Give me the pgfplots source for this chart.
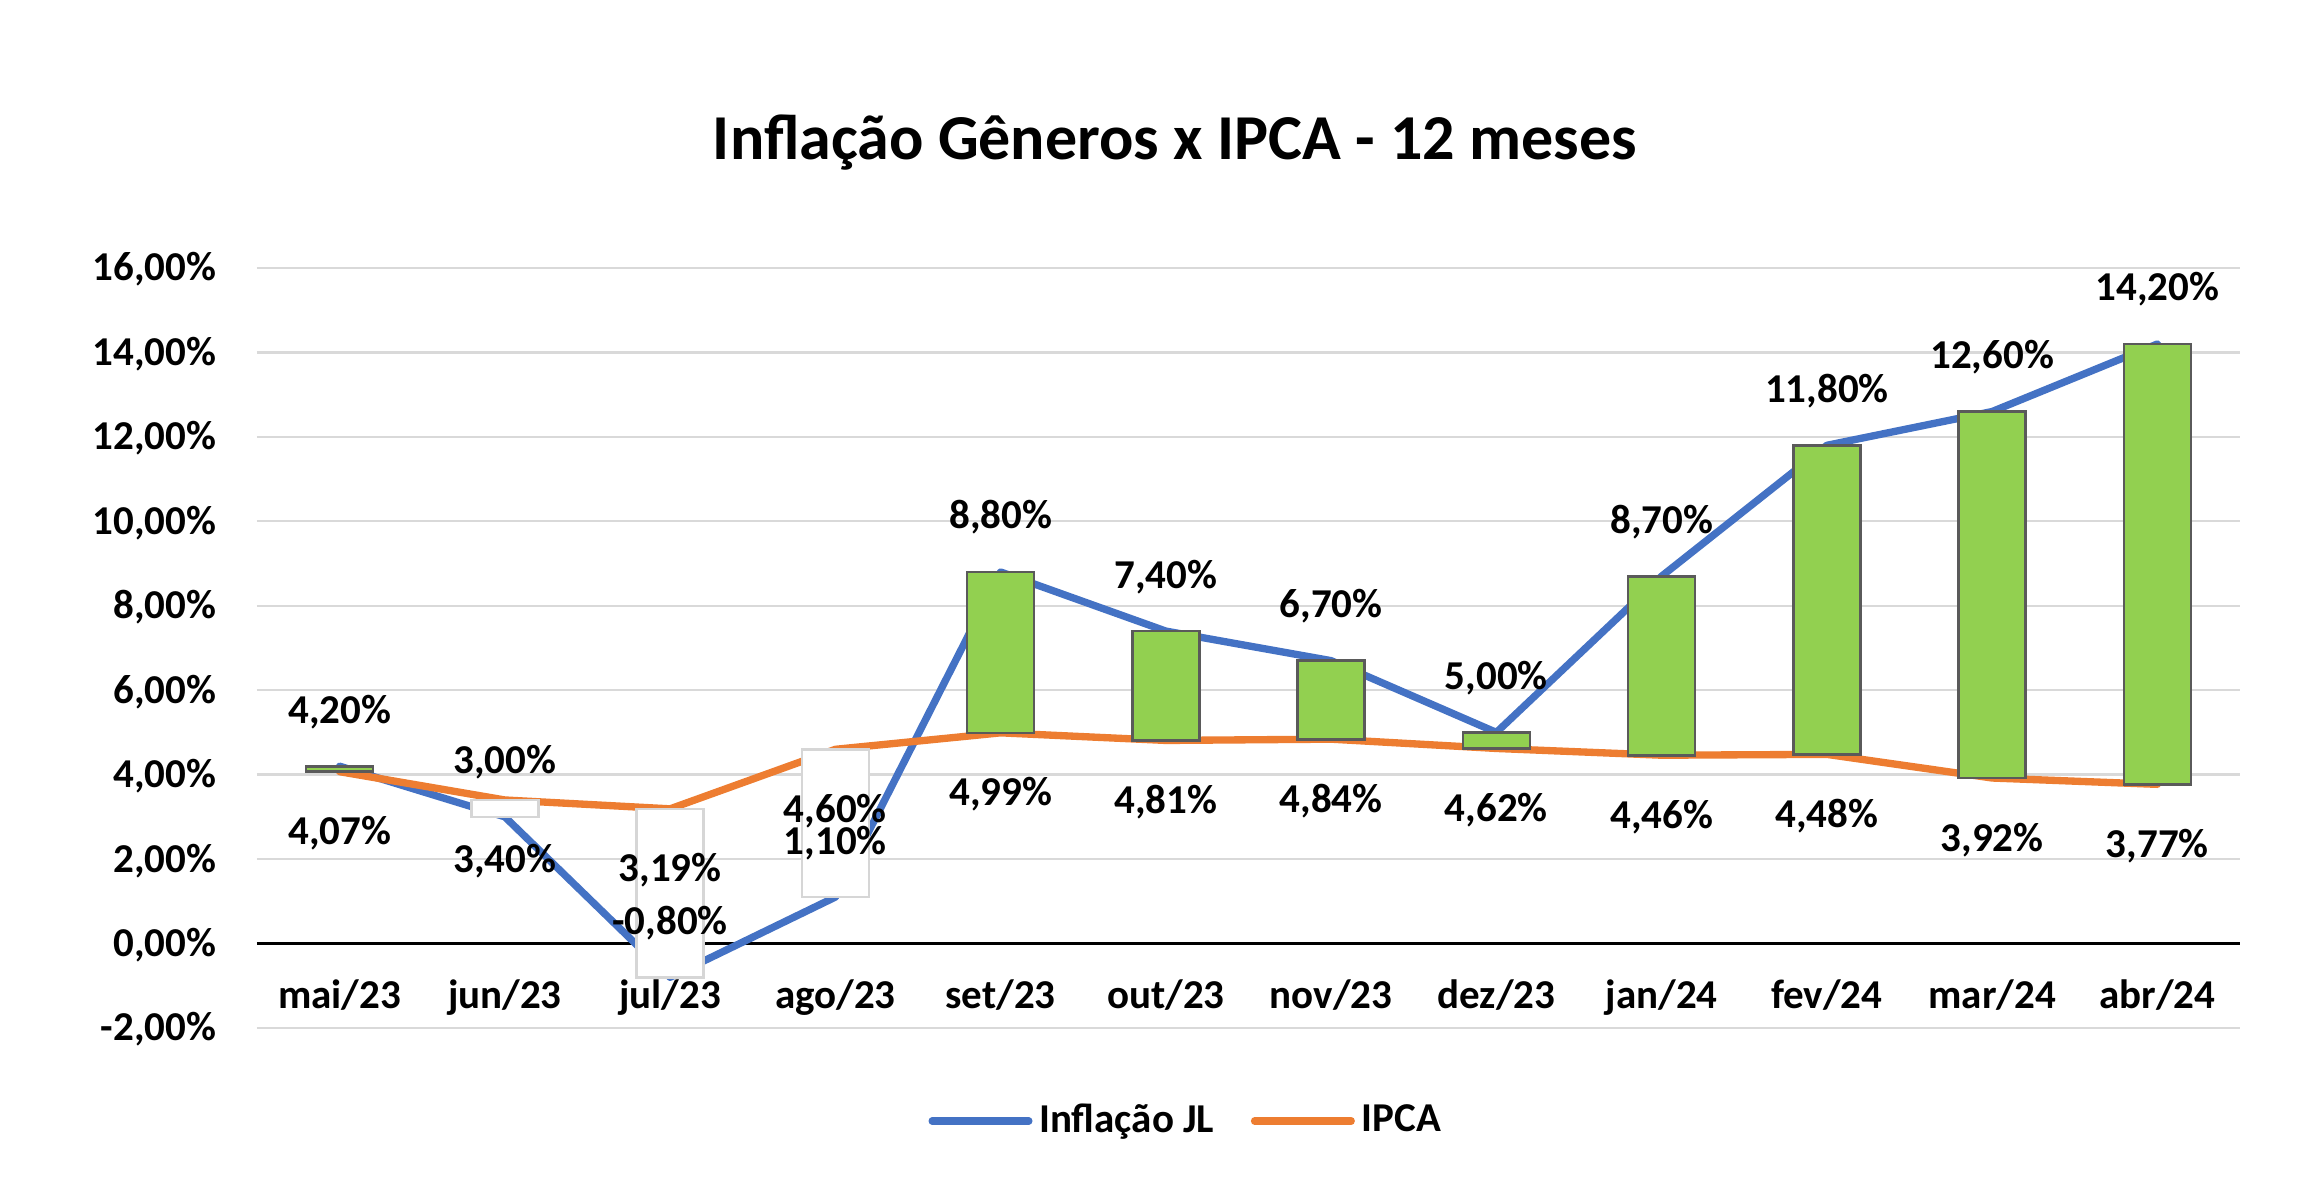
\documentclass[border=0pt]{standalone}
\usepackage{pgfplots}
\pgfplotsset{compat=1.18}
\usepackage{pgfplotstable}
\usepackage{fontspec}
\setmainfont{Carlito}
\definecolor{jlblue}{HTML}{4472C4}
\definecolor{ipcaorange}{HTML}{ED7D31}
\definecolor{upgreen}{HTML}{92D050}
\definecolor{barborder}{HTML}{5A5A5A}
\definecolor{downborder}{HTML}{D6D6D6}
\definecolor{gridgray}{HTML}{D9D9D9}
\newcommand\lbl{\fontsize{12.3pt}{14pt}\selectfont\bfseries}

\pgfplotstableread{
x JL IPCA
0 4.20 4.07
1 3.00 3.40
2 -0.80 3.19
3 1.10 4.60
4 8.80 4.99
5 7.40 4.81
6 6.70 4.84
7 5.00 4.62
8 8.70 4.46
9 11.80 4.48
10 12.60 3.92
11 14.20 3.77
}\series

% up bars (Inflacao JL above IPCA): base = IPCA, diff = JL - IPCA
\pgfplotstableread{
x base diff
0 4.07 0.13
4 4.99 3.81
5 4.81 2.59
6 4.84 1.86
7 4.62 0.38
8 4.46 4.24
9 4.48 7.32
10 3.92 8.68
11 3.77 10.43
}\upbars

% down bars (Inflacao JL below IPCA): base = JL, diff = IPCA - JL
\pgfplotstableread{
x base diff
1 3.00 0.40
2 -0.80 3.99
3 1.10 3.50
}\downbars

\pgfplotsset{
  common/.style={
    scale only axis, width=594.9pt, height=228pt,
    at={(77.1pt,49.2pt)}, anchor=south west,
    xmin=-0.5, xmax=11.5, ymin=-2, ymax=16,
    enlargelimits=false,
  },
  overlay/.style={common, hide axis, clip=false},
}

\begin{document}
\begin{tikzpicture}
\useasboundingbox (0,0) rectangle (697.2pt,357.6pt);
\node[font=\fontsize{19.2pt}{23pt}\selectfont\bfseries, anchor=base, inner sep=0pt] at (352.5pt,309.6pt) {Inflação Gêneros x IPCA - 12 meses};

\begin{axis}[common,
  axis line style={draw=none},
  major tick length=0pt,
  ytick={-2,0,2,4,6,8,10,12,14,16},
  yticklabels={{-2,00\%},{0,00\%},{2,00\%},{4,00\%},{6,00\%},{8,00\%},{10,00\%},{12,00\%},{14,00\%},{16,00\%}},
  yticklabel style={font=\lbl, anchor=base east, inner sep=0pt, xshift=-12pt, yshift=-3.9pt},
  xtick={0,1,2,3,4,5,6,7,8,9,10,11},
  xticklabels={mai/23,jun/23,jul/23,ago/23,set/23,out/23,nov/23,dez/23,jan/24,fev/24,mar/24,abr/24},
  xticklabel style={font=\lbl, anchor=base, inner sep=0pt, yshift=5.7pt},
  ymajorgrids,
  grid style={gridgray, line width=0.7pt},
  extra y ticks={0},
  extra y tick labels={},
  extra y tick style={grid style={black, line width=0.8pt}},
  legend style={at={(0.4695,-0.1224)}, anchor=center, draw=none, fill=none, font=\lbl,
    legend columns=2, /tikz/every even column/.append style={column sep=9pt}},
  legend image code/.code={\draw[#1, line cap=round] (0pt,0pt) -- (29pt,0pt);},
]
\addplot[jlblue, line width=2.2pt, line join=round, line cap=round] table[x=x,y=JL]{\series};
\addlegendentry{Inflação JL}
\addplot[ipcaorange, line width=2.2pt, line join=round, line cap=round] table[x=x,y=IPCA]{\series};
\addlegendentry{IPCA}
\end{axis}

\begin{axis}[overlay, ybar stacked, bar width=20.1pt]
\addplot[draw=none, fill=none] table[x=x,y=base]{\upbars};
\addplot[fill=upgreen, draw=barborder, line width=0.8pt] table[x=x,y=diff]{\upbars};
\end{axis}

% same frame, values measured from the bottom of the axis (-2) so every stack is positive
\begin{axis}[overlay, ymin=0, ymax=18, ybar stacked, bar width=20.1pt]
\addplot[draw=none, fill=none] table[x=x,y expr=\thisrow{base}+2]{\downbars};
\addplot[fill=white, draw=downborder, line width=0.8pt] table[x=x,y=diff]{\downbars};
\end{axis}

\begin{axis}[overlay]
\addplot[draw=none, mark=none, point meta=y,
  nodes near coords={\pgfmathprintnumber[fixed,fixed zerofill,precision=2,use comma,assume math mode=true]{\pgfplotspointmeta}\%},
  nodes near coords style={font=\lbl, anchor=base, yshift=12.9pt, text=black}] table[x=x,y=JL]{\series};
\addplot[draw=none, mark=none, point meta=y,
  nodes near coords={\pgfmathprintnumber[fixed,fixed zerofill,precision=2,use comma,assume math mode=true]{\pgfplotspointmeta}\%},
  nodes near coords style={font=\lbl, anchor=base, yshift=-21.9pt, text=black}] table[x=x,y=IPCA]{\series};
\end{axis}
\end{tikzpicture}
\end{document}
